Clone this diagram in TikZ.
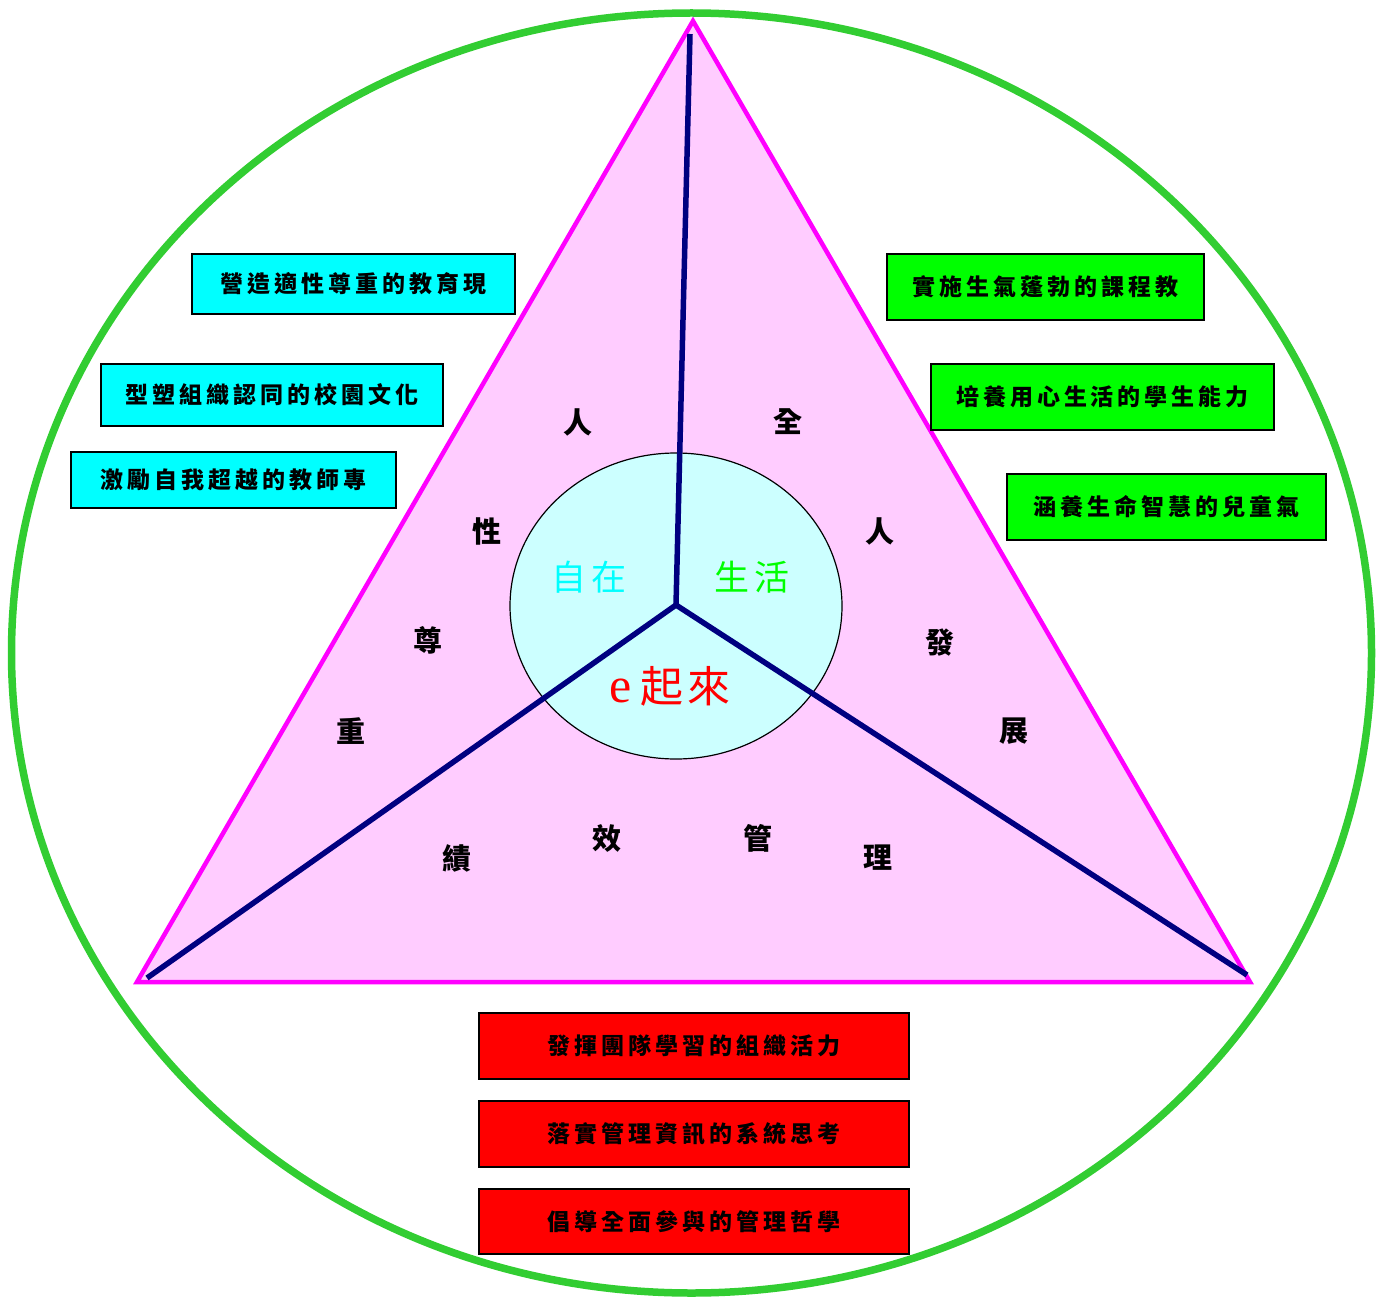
\documentclass[tikz,border=0pt]{standalone}
\usepackage{fontspec}
\usetikzlibrary{shapes.geometric}
\newfontfamily\cjk[LetterSpace=17]{Noto Sans CJK TC}
\newfontfamily\cjkbig{Noto Sans CJK TC}
\newfontfamily\eserif{Liberation Serif}
\definecolor{ringgreen}{RGB}{50,205,50}
\definecolor{trifill}{RGB}{255,204,255}
\definecolor{trimag}{RGB}{255,0,255}
\definecolor{spoke}{RGB}{0,0,128}
\definecolor{hubfill}{RGB}{204,255,255}
\definecolor{boxcyan}{RGB}{0,255,255}
\definecolor{boxgreen}{RGB}{0,255,0}
\definecolor{boxred}{RGB}{255,0,0}
\tikzset{
  goalbox/.style={draw=black, line width=2pt, inner sep=0pt, font=\cjk\bfseries\fontsize{23}{27}\selectfont},
  cyanbox/.style={goalbox, fill=boxcyan},
  greenbox/.style={goalbox, fill=boxgreen},
  redbox/.style={goalbox, fill=boxred},
  sidechar/.style={font=\cjkbig\bfseries\fontsize{29}{32}\selectfont, inner sep=0pt},
  hubtext/.style={font=\cjkbig\fontsize{35}{38}\selectfont, inner sep=0pt},
  spokeline/.style={draw=spoke, line width=5.5pt}
}
\begin{document}
\begin{tikzpicture}[x=1pt,y=-1pt]
\useasboundingbox (0,0) rectangle (1384,1297);
% outer ring
\draw[ringgreen, line width=7.5pt] (691.5,653) ellipse [x radius=680, y radius=640];
% triangle
\coordinate (apex) at (693,21);
\coordinate (bl) at (137,982);
\coordinate (br) at (1250,982);
\draw[trimag, line width=4.5pt, fill=trifill, line join=miter] (apex) -- (bl) -- (br) -- cycle;
% hub
\node (hub) [ellipse, draw=black, line width=1.2pt, fill=hubfill, minimum width=332pt, minimum height=306pt, inner sep=0pt] at (676,606) {};
\coordinate (c) at (676,605);
\coordinate (e1) at (690,34);
\coordinate (e2) at (147,978);
\coordinate (e3) at (1247,975);
\draw[spokeline] (c) -- (e1);
\draw[spokeline] (c) -- (e2);
\draw[spokeline] (c) -- (e3);
% hub texts
\node (t1) [hubtext, text=boxcyan] at (589,577) {自\hspace{6pt}在};
\node (t2) [hubtext, text=boxgreen] at (752,577) {生\hspace{6pt}活};
\node (t3) [hubtext, text=boxred, font=\cjkbig\fontsize{43}{46}\selectfont] at (670,686) {{\eserif\fontsize{50}{52}\selectfont e}\hspace{8pt}起\hspace{4pt}來};
% side characters
\node (s1) [sidechar] at (578,422) {人};
\node (s2) [sidechar] at (487,531) {性};
\node (s3) [sidechar] at (428,640) {尊};
\node (s4) [sidechar] at (351,731) {重};
\node (s5) [sidechar] at (788,422) {全};
\node (s6) [sidechar] at (880,531) {人};
\node (s7) [sidechar] at (940,643) {發};
\node (s8) [sidechar] at (1014,731) {展};
\node (s9) [sidechar] at (457,858) {績};
\node (s10) [sidechar] at (607,838) {效};
\node (s11) [sidechar] at (758,838) {管};
\node (s12) [sidechar] at (878,858) {理};
% left boxes
\node (L1) [cyanbox, minimum width=323pt, minimum height=60pt] at (353.5,284) {營造適性尊重的教育現};
\node (L2) [cyanbox, minimum width=342pt, minimum height=62pt] at (272,395) {型塑組織認同的校園文化};
\node (L3) [cyanbox, minimum width=325pt, minimum height=56pt] at (233.5,480) {激勵自我超越的教師專};
% right boxes
\node (R1) [greenbox, minimum width=317pt, minimum height=66pt] at (1045.5,287) {實施生氣蓬勃的課程教};
\node (R2) [greenbox, minimum width=343pt, minimum height=66pt] at (1102.5,397) {培養用心生活的學生能力};
\node (R3) [greenbox, minimum width=319pt, minimum height=66pt] at (1166.5,507) {涵養生命智慧的兒童氣};
% bottom boxes
\node (B1) [redbox, minimum width=430pt, minimum height=66pt] at (694,1046) {發揮團隊學習的組織活力};
\node (B2) [redbox, minimum width=430pt, minimum height=66pt] at (694,1134) {落實管理資訊的系統思考};
\node (B3) [redbox, minimum width=430pt, minimum height=65pt] at (694,1221.5) {倡導全面參與的管理哲學};
\end{tikzpicture}
\end{document}
